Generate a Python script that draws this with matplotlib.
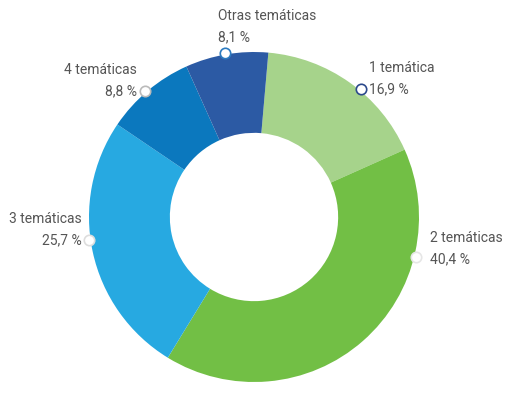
import matplotlib
matplotlib.use("Agg")
import matplotlib.pyplot as plt
import numpy as np

# data
categories = ["1 temática", "2 temáticas", "3 temáticas", "4 temáticas", "Otras temáticas"]
values = [16.9, 40.4, 25.7, 8.8, 8.1]
value_labels = ["16,9 %", "40,4 %", "25,7 %", "8,8 %", "8,1 %"]
colors = ["#A6D38B", "#72BF45", "#27A9E1", "#0B78BE", "#2C5AA4"]

# label layout (pixels from top-left of the 514x400 image)
marker_angles = [50, -14, 188, 131, 100]
marker_edges = ["#2C4A8C", "#E6E6E6", "#DDDDDD", "#BBBBBB", "#2C7BC0"]
label_x = [369, 430, 82, 137, 218]
label_y = [89, 259, 240, 91, 37]
label_ha = ["left", "left", "right", "right", "left"]

W, H = 514, 400
cx, cy, R = 254, 217, 165

fig = plt.figure(figsize=(W / 100, H / 100), dpi=100)
ax = fig.add_axes([0, 0, 1, 1])

ax.pie(values, colors=colors, startangle=85, counterclock=False, radius=1.0,
       wedgeprops=dict(width=0.49, edgecolor="none"))

# pie() resets limits, so fix them afterwards
ax.set_xlim(-cx / R, (W - cx) / R)
ax.set_ylim(-(H - cy) / R, cy / R)
ax.set_aspect("equal")
ax.axis("off")

for ang, ec in zip(marker_angles, marker_edges):
    a = np.deg2rad(ang)
    ax.plot(np.cos(a) * 1.01, np.sin(a) * 1.01, "o", ms=7.5, mfc="white",
            mec=ec, mew=1.2, zorder=5, clip_on=False)

font = ["Liberation Sans Narrow", "Roboto", "DejaVu Sans"]
txt_color = "#555555"
for name, val, x, y, ha in zip(categories, value_labels, label_x, label_y, label_ha):
    fig.text(x / W, 1 - y / H, val, ha=ha, va="center", fontsize=10,
             color=txt_color, family=font)
    fig.text(x / W, 1 - (y - 21) / H, name, ha=ha, va="center", fontsize=10,
             color=txt_color, family=font)

fig.savefig("out.png", dpi=100)
